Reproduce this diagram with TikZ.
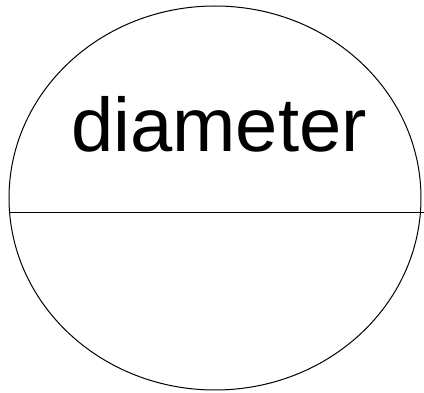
\documentclass[tikz,border=0pt]{standalone}
\usepackage{fontspec}
\setmainfont{Liberation Sans}
\usepackage{tikz}

\begin{document}
\begin{tikzpicture}[x=1pt,y=-1pt,line width=1pt]
  \tikzstyle{label}=[anchor=base,inner sep=0pt,font=\fontsize{76}{80}\selectfont]
  \useasboundingbox (0,0) rectangle (424,393);
  \coordinate (C) at (215,198);
  \draw (C) ellipse [x radius=206pt,y radius=192pt];
  \coordinate (L) at (10,213);
  \coordinate (R) at (424,213);
  \draw (L) -- (R);
  \node[label] (D) at (219,152) {diameter};
\end{tikzpicture}
\end{document}
